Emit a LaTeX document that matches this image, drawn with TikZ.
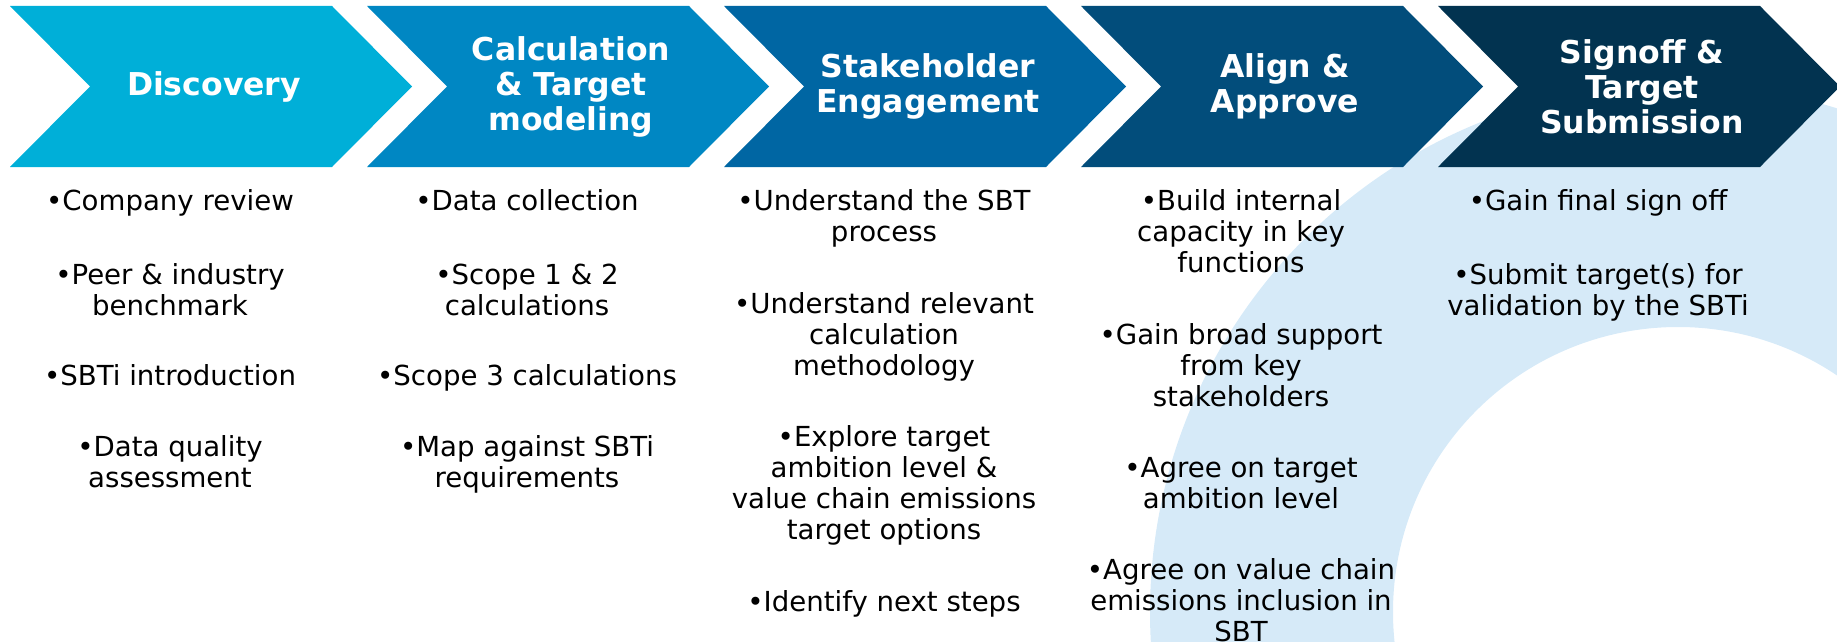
\documentclass[tikz,border=0pt]{standalone}
\usepackage{fontspec}
\setmainfont{DejaVu Sans}
\definecolor{ringblue}{RGB}{214,234,248}
\definecolor{phaseA}{RGB}{0,175,216}
\definecolor{phaseB}{RGB}{0,135,195}
\definecolor{phaseC}{RGB}{0,102,163}
\definecolor{phaseD}{RGB}{2,77,123}
\definecolor{phaseE}{RGB}{2,51,80}
\begin{document}
\begin{tikzpicture}[x=1pt,y=-1pt,
  title/.style={text=white,font=\bfseries\fontsize{31.5}{35}\selectfont,align=center,inner sep=0pt},
  item/.style={text=black,font=\fontsize{27.6}{31}\selectfont,align=center,anchor=north,inner sep=0pt}]
\useasboundingbox (0,0) rectangle (1837,642);
\begin{scope}
  \clip (0,0) rectangle (1837,642);
  % light blue ring in the background
  \fill[ringblue,even odd rule] (1678,612) circle (528pt) (1678,612) circle (285pt);
  % the five phase chevrons
  \foreach \i/\c in {0/phaseA,1/phaseB,2/phaseC,3/phaseD,4/phaseE} {
    \fill[\c] ({10+357*\i},6) -- ++(322,0) -- ++(80,80.5) -- ++(-80,80.5)
      -- ++(-322,0) -- ++(80,-80.5) -- cycle;
  }
\end{scope}

% phase titles
\node[title] (t1) at (214,86.5) {Discovery};
\node[title] (t2) at (571,86.5) {Calculation\\\& Target\\modeling};
\node[title] (t3) at (928,86.5) {Stakeholder\\Engagement};
\node[title] (t4) at (1285,86.5) {Align \&\\Approve};
\node[title] (t5) at (1642,86.5) {Signoff \&\\Target\\Submission};

% phase 1 activities
\node[item] (a1) at (170,188.8) {\strut•Company review};
\node[item] (a2) at (170,262.6) {\strut•Peer \& industry\\benchmark};
\node[item] (a3) at (170,363.3) {\strut•SBTi introduction};
\node[item] (a4) at (170,434.8) {\strut•Data quality\\assessment};

% phase 2 activities
\node[item] (b1) at (527,188.8) {\strut•Data collection};
\node[item] (b2) at (527,262.6) {\strut•Scope 1 \& 2\\calculations};
\node[item] (b3) at (527,363.3) {\strut•Scope 3 calculations};
\node[item] (b4) at (527,434.8) {\strut•Map against SBTi\\requirements};

% phase 3 activities
\node[item] (c1) at (884,188.8) {\strut•Understand the SBT\\process};
\node[item] (c2) at (884,291.9) {\strut•Understand relevant\\calculation\\methodology};
\node[item] (c3) at (884,424.3) {\strut•Explore target\\ambition level \&\\value chain emissions\\target options};
\node[item] (c4) at (884,589.5) {\strut•Identify next steps};

% phase 4 activities
\node[item] (d1) at (1241,188.8) {\strut•Build internal\\capacity in key\\functions};
\node[item] (d2) at (1241,322.3) {\strut•Gain broad support\\from key\\stakeholders};
\node[item] (d3) at (1241,455.9) {\strut•Agree on target\\ambition level};
\node[item] (d4) at (1241,557.9) {\strut•Agree on value chain\\emissions inclusion in\\SBT};

% phase 5 activities
\node[item] (e1) at (1598,188.8) {\strut•Gain final sign off};
\node[item] (e2) at (1598,262.6) {\strut•Submit target(s) for\\validation by the SBTi};
\end{tikzpicture}
\end{document}
